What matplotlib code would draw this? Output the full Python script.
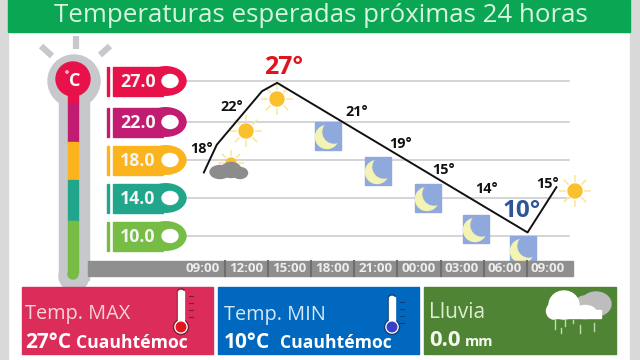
import matplotlib
matplotlib.use("Agg")
import matplotlib.pyplot as plt
from matplotlib.patches import Rectangle, Circle, Ellipse, FancyBboxPatch
import numpy as np

plt.rcParams['font.family'] = ['Open Sans', 'DejaVu Sans']

title = "Temperaturas esperadas próximas 24 horas"
hours = ["09:00", "12:00", "15:00", "18:00", "21:00", "00:00", "03:00", "06:00", "09:00"]

# scale on the left
scale_values = [27.0, 22.0, 18.0, 14.0, 10.0]
scale_colors = ["#E8124B", "#C21B72", "#FBB41E", "#21A68C", "#76BC45"]

# temperature line (x = steps of 3 h from first tick)
line_steps = [0.02, 0.32, 1.37, 1.72, 7.53, 8.20]
line_temps = [17.1, 20.1, 25.9, 26.8, 10.6, 15.5]

point_labels = ["18°", "22°", "27°", "21°", "19°", "15°", "14°", "10°", "15°"]

max_temp = "27°C"
min_temp = "10°C"
municipio = "Cuauhtémoc"
rain = "0.0"

fig = plt.figure(figsize=(6.4, 3.6), dpi=100)
ax = fig.add_axes([0, 0, 1, 1])
ax.set_xlim(0, 640)
ax.set_ylim(360, 0)
ax.axis('off')

# second axes in data units, same area as the picture
px_step = 43.1
y27, deg_px = 81, 9.235
dax = fig.add_axes([0, 0, 1, 1], frameon=False)
dax.set_xlim((0 - 203) / px_step, (640 - 203) / px_step)
dax.set_ylim(27 - (360 - y27) / deg_px, 27 + y27 / deg_px)
dax.set_xticks([])
dax.set_yticks([])


def sun(x, y, r=7, ray=15):
    for a in np.arange(0, 360, 45):
        ca, sa = np.cos(np.radians(a)), np.sin(np.radians(a))
        ax.plot([x + (r + 3) * ca, x + ray * ca], [y + (r + 3) * sa, y + ray * sa],
                color="#FBE9A6", lw=1.3, zorder=3)
    ax.add_patch(Circle((x, y), r, color="#FBC02D", zorder=4))


def moon(x, y):
    box = Rectangle((x - 13, y - 14), 26, 28, color="#8FA9DC", zorder=3)
    ax.add_patch(box)
    ax.add_patch(Circle((x - 1, y + 1), 11.5, color="#F3F3B4", zorder=4))
    cut = Circle((x + 6, y - 4), 11, color="#8FA9DC", zorder=4)
    ax.add_patch(cut)
    cut.set_clip_path(box)


def thermo(x, top, bottom, fill, edge):
    ax.add_patch(FancyBboxPatch((x - 3.5, top), 7, bottom - top, boxstyle="round,pad=0,rounding_size=3",
                                fc="white", ec=edge, lw=1, zorder=3))
    ax.add_patch(Circle((x, bottom + 2), 7.5, fc="white", ec=edge, lw=1, zorder=3))
    ax.add_patch(Rectangle((x - 2.7, top + 2), 5.4, bottom - top, color="white", zorder=4))
    ax.add_patch(Circle((x, bottom + 2), 4.8, color=fill, zorder=5))
    for k in range(4):
        ax.plot([x + 8, x + 12], [top + 7 + k * 7] * 2, color=edge, lw=0.8, zorder=3)


# frame and title bar
ax.add_patch(Rectangle((0, 0), 8, 360, color="#D9D9D9"))
ax.add_patch(Rectangle((630, 0), 10, 360, color="#D9D9D9"))
ax.add_patch(Rectangle((8, 0), 622, 32, color="#0BA654"))
ax.text(321, 15, title, color="#D8F5E0", fontsize=18.6, ha='center', va='center')

# big thermometer
ax.add_patch(Rectangle((59, 85), 30, 195, color="#C6C8CC", zorder=1))
ax.add_patch(Circle((74, 276), 15, color="#C6C8CC", zorder=1))
ax.add_patch(Circle((74, 81), 26, color="#C6C8CC", zorder=1))
for x0, y0, x1, y1 in [(41, 46, 52, 56), (76, 36, 76, 49), (110, 46, 100, 55)]:
    ax.plot([x0, x1], [y0, y1], color="#C6C8CC", lw=4.5, zorder=1, solid_capstyle='butt')
ax.add_patch(Rectangle((68, 90), 10, 14, color=scale_colors[0], zorder=2))
ax.add_patch(Rectangle((68, 103), 10, 39, color=scale_colors[1], zorder=2))
ax.add_patch(Rectangle((68, 142), 10, 38, color=scale_colors[2], zorder=2))
ax.add_patch(Rectangle((68, 180), 10, 41, color=scale_colors[3], zorder=2))
ax.add_patch(Rectangle((68, 221), 10, 52, color=scale_colors[4], zorder=2))
ax.add_patch(Circle((73, 274), 5, color=scale_colors[4], zorder=2))
ax.add_patch(Circle((73, 79), 17, color=scale_colors[0], zorder=2))
ax.text(75, 81, "C", color="white", fontsize=13, fontweight='bold', ha='center', va='center', zorder=3)
ax.add_patch(Circle((67, 72), 1.2, fc="none", ec="white", lw=0.7, zorder=3))

# gray time axis
ax.add_patch(Rectangle((88, 261), 485, 15, color="#8F8F8F", zorder=5))
for h, lab in enumerate(hours):
    ax.text(203 + h * px_step, 269, lab, color="#EDEDED", fontsize=9.6, fontweight='bold',
            ha='center', va='center', zorder=6)
    if h < len(hours) - 1:
        ax.plot([225 + h * px_step] * 2, [261, 276], color="#6E6E6E", lw=1.5, zorder=6)

# scale tags and grid
tag_y = [81, 122, 160, 198, 236]
for yy, v, c in zip(tag_y, scale_values, scale_colors):
    ax.plot([186, 569], [yy, yy], color="#C9C9C9", lw=1.1, zorder=1)
    ax.add_patch(Rectangle((106.5, yy - 14), 2, 28.5, color=c, zorder=2))
    ax.add_patch(Rectangle((113, yy - 14), 50, 28.5, color=c, zorder=2))
    ax.add_patch(Ellipse((166, yy), 40, 28.5, color=c, zorder=2))
    ax.text(120, yy + 1, f"{v:.1f}", color="#F5F5F5", fontsize=12.8, fontweight='bold', va='center', zorder=3)
    ax.add_patch(Ellipse((170, yy), 16, 13, color="white", zorder=3))

# icons
sun(277, 99)
sun(246, 131)
sun(575, 191)
sun(231, 163, 5, 12)
for cx, cy, w, h in [(220, 172, 20, 13), (231, 170, 20, 15), (240, 173, 15, 11)]:
    ax.add_patch(Ellipse((cx, cy), w, h, color="#8C8C8C", zorder=4))
for mx, my in [(328, 136), (378, 171), (428, 198), (476, 229), (523, 250)]:
    moon(mx, my)

# temperature line
dax.plot(line_steps, line_temps, color="#111111", lw=1.4, zorder=5)

# point labels
label_xy = [(202, 149), (232, 107), (284, 68), (357, 112), (401, 144), (444, 170), (487, 189), (522, 211), (548, 184)]
for (lx, ly), lab in zip(label_xy, point_labels):
    if lab == "27°" and ly == 68:
        col, fs = "#E0141E", 18
    elif lab == "10°":
        col, fs = "#2F5597", 17.5
    else:
        col, fs = "#111111", 10.4
    ax.text(lx, ly, lab, color=col, fontsize=fs, fontweight='bold', ha='center', va='center', zorder=6)

# bottom panels
ax.add_patch(Rectangle((22, 287), 191, 67, color="#DB2C5A"))
ax.add_patch(Rectangle((218, 287), 201, 67, color="#0068BE"))
ax.add_patch(Rectangle((424, 287), 192, 67, color="#4E8433"))

ax.text(25, 314, "Temp. MAX", color="#F6D5DC", fontsize=14.3, va='center')
ax.text(25, 342, max_temp, color="white", fontsize=15, fontweight='bold', va='center')
ax.text(76, 343, municipio, color="white", fontsize=12.6, fontweight='bold', va='center')
ax.text(224, 315, "Temp. MIN", color="#D6E8F7", fontsize=14.3, va='center')
ax.text(224, 342, min_temp, color="white", fontsize=15, fontweight='bold', va='center')
ax.text(280, 343, municipio, color="white", fontsize=12.6, fontweight='bold', va='center')
ax.text(429, 312, "Lluvia", color="#DDEBD3", fontsize=15, va='center')
ax.text(429, 340, rain, color="#F4F8EE", fontsize=16, fontweight='bold', va='center')
ax.text(465, 342, "mm", color="#F4F8EE", fontsize=10.5, fontweight='bold', va='center')

thermo(181, 289, 325, "#E3141E", "#7A1F30")
thermo(392, 295, 325, "#3B3FC4", "#0D3F7A")

# rain cloud
for cx, cy, w, h in [(596, 304, 30, 24), (585, 303, 18, 14)]:
    ax.add_patch(Ellipse((cx, cy), w, h, color="#BDBDBD", zorder=2))
for cx, cy, w, h in [(564, 305, 30, 28), (554, 311, 15, 16), (585, 312, 22, 13)]:
    ax.add_patch(Ellipse((cx, cy), w, h, color="white", zorder=3))
ax.add_patch(Rectangle((551, 310), 50, 8, color="white", zorder=3))
for rx, r0, r1 in [(555, 320, 329), (561, 328, 333), (565, 320, 326), (573, 320, 323), (580, 325, 333), (594, 323, 331)]:
    ax.plot([rx, rx], [r0, r1], color="#C4D8B4", lw=1, zorder=3)

fig.savefig("out.png", dpi=100)
